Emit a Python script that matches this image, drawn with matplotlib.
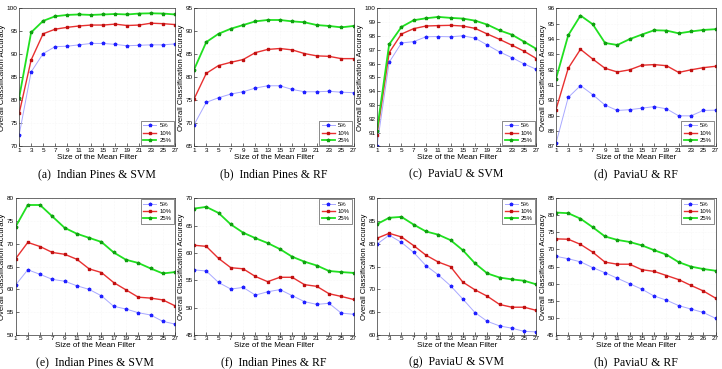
# Klassifikationsgenauigkeit in Abhaengigkeit der Groesse des Mittelwertfilters
import matplotlib.pyplot as plt

filter_groesse = [1, 3, 5, 7, 9, 11, 13, 15, 17, 19, 21, 23, 25, 27]
tick_labels = ['1', '3', '5', '7', '9', '11', '13', '15', '17', '19', '21', '23', '25', '27']
tick_labels_h = ['1', '3', '5', '7', '9', '11', '13', '15', '17', '19', '21', '23', '26', '27']
legende = ['5%', '10%', '25%']

# (a) Indian Pines & SVM, obere Reihe
a_5 = [72.5, 86.2, 90.2, 91.7, 91.8, 92.1, 92.4, 92.4, 92.2, 91.9, 92.0, 92.1, 92.1, 92.3]
a_10 = [77.2, 88.8, 94.5, 95.5, 95.9, 96.2, 96.4, 96.4, 96.6, 96.3, 96.4, 96.8, 96.7, 96.5]
a_25 = [80.6, 94.8, 97.3, 98.3, 98.6, 98.7, 98.6, 98.7, 98.8, 98.7, 98.9, 98.95, 98.9, 98.7]

# (b) Indian Pines & RF
b_5 = [69.7, 74.6, 75.6, 76.4, 76.9, 77.7, 78.2, 78.2, 77.4, 76.9, 76.9, 77.0, 76.8, 76.7]
b_10 = [75.3, 80.9, 82.6, 83.3, 83.9, 85.4, 86.1, 86.3, 86.0, 85.2, 84.7, 84.6, 84.1, 84.1]
b_25 = [81.7, 87.7, 89.5, 90.6, 91.4, 92.2, 92.5, 92.5, 92.2, 92.0, 91.4, 91.2, 90.9, 91.2]

# (c) PaviaU & SVM
c_5 = [90.0, 96.1, 97.5, 97.6, 97.95, 97.97, 97.95, 98.02, 97.85, 97.35, 96.85, 96.44, 95.98, 95.59]
c_10 = [90.8, 96.8, 98.15, 98.54, 98.73, 98.76, 98.78, 98.73, 98.56, 98.15, 97.76, 97.34, 96.9, 96.37]
c_25 = [91.1, 97.4, 98.66, 99.15, 99.29, 99.39, 99.32, 99.27, 99.12, 98.83, 98.41, 98.1, 97.59, 97.07]

# (d) PaviaU & RF
d_5 = [87.2, 90.2, 90.97, 90.38, 89.7, 89.35, 89.4, 89.5, 89.6, 89.46, 89.0, 89.0, 89.35, 89.37]
d_10 = [89.4, 92.1, 93.34, 92.7, 92.1, 91.86, 92.0, 92.3, 92.34, 92.27, 91.83, 92.0, 92.14, 92.23]
d_25 = [91.4, 94.25, 95.54, 94.97, 93.75, 93.62, 94.0, 94.3, 94.58, 94.56, 94.38, 94.5, 94.6, 94.65]

# (e) Indian Pines & SVM, untere Reihe
e_5 = [60.95, 64.3, 63.3, 62.2, 61.8, 60.8, 60.0, 58.6, 56.3, 55.7, 54.9, 54.4, 53.0, 52.4]
e_10 = [66.7, 70.3, 69.4, 68.1, 67.7, 66.6, 64.5, 63.7, 61.5, 59.9, 58.3, 58.1, 57.7, 56.4]
e_25 = [73.7, 78.5, 78.5, 76.0, 73.5, 72.2, 71.3, 70.4, 68.1, 66.5, 65.8, 64.6, 63.5, 63.8]

# (f) Indian Pines & RF
f_5 = [56.9, 56.7, 54.6, 53.4, 53.7, 52.3, 52.9, 53.3, 52.2, 51.1, 50.6, 50.8, 49.0, 48.8]
f_10 = [61.4, 61.2, 59.0, 57.3, 57.1, 55.7, 54.75, 55.55, 55.55, 54.2, 53.9, 52.55, 52.05, 51.5]
f_25 = [68.1, 68.4, 67.3, 65.2, 63.7, 62.7, 61.8, 60.7, 59.3, 58.4, 57.7, 56.7, 56.5, 56.35]

# (g) PaviaU & SVM
g_5 = [79.9, 81.9, 80.3, 78.1, 75.2, 73.2, 70.8, 67.9, 64.9, 63.0, 62.0, 61.5, 60.8, 60.7]
g_10 = [81.2, 82.3, 81.5, 79.6, 77.5, 76.0, 75.0, 71.6, 69.9, 68.5, 66.7, 66.1, 66.1, 65.4]
g_25 = [84.3, 85.7, 85.9, 84.2, 82.7, 82.0, 80.8, 78.6, 75.7, 73.5, 72.6, 72.2, 71.9, 71.1]

# (h) PaviaU & RF
h_5 = [68.0, 67.3, 66.4, 64.7, 63.2, 61.6, 60.0, 58.4, 56.4, 55.2, 53.6, 52.6, 51.6, 49.9]
h_10 = [73.1, 73.0, 71.5, 69.2, 66.3, 65.7, 65.7, 64.1, 63.6, 62.4, 61.2, 59.5, 57.9, 55.8]
h_25 = [80.8, 80.6, 79.0, 76.5, 73.8, 72.8, 72.2, 71.2, 69.8, 68.5, 66.3, 65.0, 64.3, 63.8]

titel = ['(a)  Indian Pines & SVM', '(b)  Indian Pines & RF', '(c)  PaviaU & SVM', '(d)  PaviaU & RF',
         '(e)  Indian Pines & SVM', '(f)  Indian Pines & RF', '(g)  PaviaU & SVM', '(h)  PaviaU & RF']
daten = [(a_5, a_10, a_25), (b_5, b_10, b_25), (c_5, c_10, c_25), (d_5, d_10, d_25),
         (e_5, e_10, e_25), (f_5, f_10, f_25), (g_5, g_10, g_25), (h_5, h_10, h_25)]
y_bereich = [(70, 100, 5), (65, 95, 5), (90, 100, 1), (87, 96, 1),
             (50, 80, 5), (45, 70, 5), (60, 90, 5), (45, 85, 5)]

plt.rcParams['font.family'] = ['Liberation Sans', 'DejaVu Sans']

fig = plt.figure(figsize=(7.22, 3.69), dpi=100)

# Position der Achsen (Figurenbruchteile)
links = [[0.0265, 0.2687, 0.522, 0.770], [0.0215, 0.2687, 0.522, 0.770]]
breite = [[0.216, 0.221, 0.221, 0.221], [0.221, 0.221, 0.221, 0.221]]
unten = [0.603, 0.092]
hoehe = [0.374, 0.371]

for i in range(8):
    reihe, spalte = divmod(i, 4)
    ax = fig.add_axes([links[reihe][spalte], unten[reihe], breite[reihe][spalte], hoehe[reihe]])
    y5, y10, y25 = daten[i]
    ax.plot(filter_groesse, y5, color='#a8a8ff', lw=0.7, marker='*', ms=2.5,
            mfc='#2020ff', mec='#2020ff', label=legende[0])
    ax.plot(filter_groesse, y10, color='#e83030', lw=1.0, marker='s', ms=1.6,
            mfc='#c01010', mec='#c01010', label=legende[1])
    ax.plot(filter_groesse, y25, color='#20e020', lw=1.3, marker='*', ms=2.5,
            mfc='#10a010', mec='#10a010', label=legende[2])

    y0, y1, schritt = y_bereich[i]
    ax.set_xlim(1, 27)
    ax.set_ylim(y0, y1)
    ax.set_xticks(filter_groesse)
    ax.set_xticklabels(tick_labels_h if i == 7 else tick_labels)
    ax.set_yticks(range(y0, y1 + 1, schritt))
    ax.tick_params(direction='in', length=2, width=0.4, labelsize=4.6, pad=1.0)
    for s in ax.spines.values():
        s.set_linewidth(0.5)
        s.set_color('#333333')
    ax.grid(True, color='#f2f2f2', lw=0.4, ls=':')

    ax.set_xlabel('Size of the Mean Filter', fontsize=5.8, labelpad=0.5)
    ax.set_ylabel('Overall Classification Accuracy', fontsize=5.6, labelpad=0.3)

    ort = 'lower right' if reihe == 0 else 'upper right'
    ax.legend(loc=ort, fontsize=4.3, handlelength=2.2, handletextpad=0.5,
              borderpad=0.4, labelspacing=0.35, fancybox=False, framealpha=1,
              edgecolor='#333333', borderaxespad=0.2).get_frame().set_linewidth(0.4)

    ax.text(0.5, -0.2, titel[i], transform=ax.transAxes, ha='center', va='center',
            fontsize=8.5, family=['Liberation Serif', 'DejaVu Serif'])

plt.savefig('out.png', dpi=100)
